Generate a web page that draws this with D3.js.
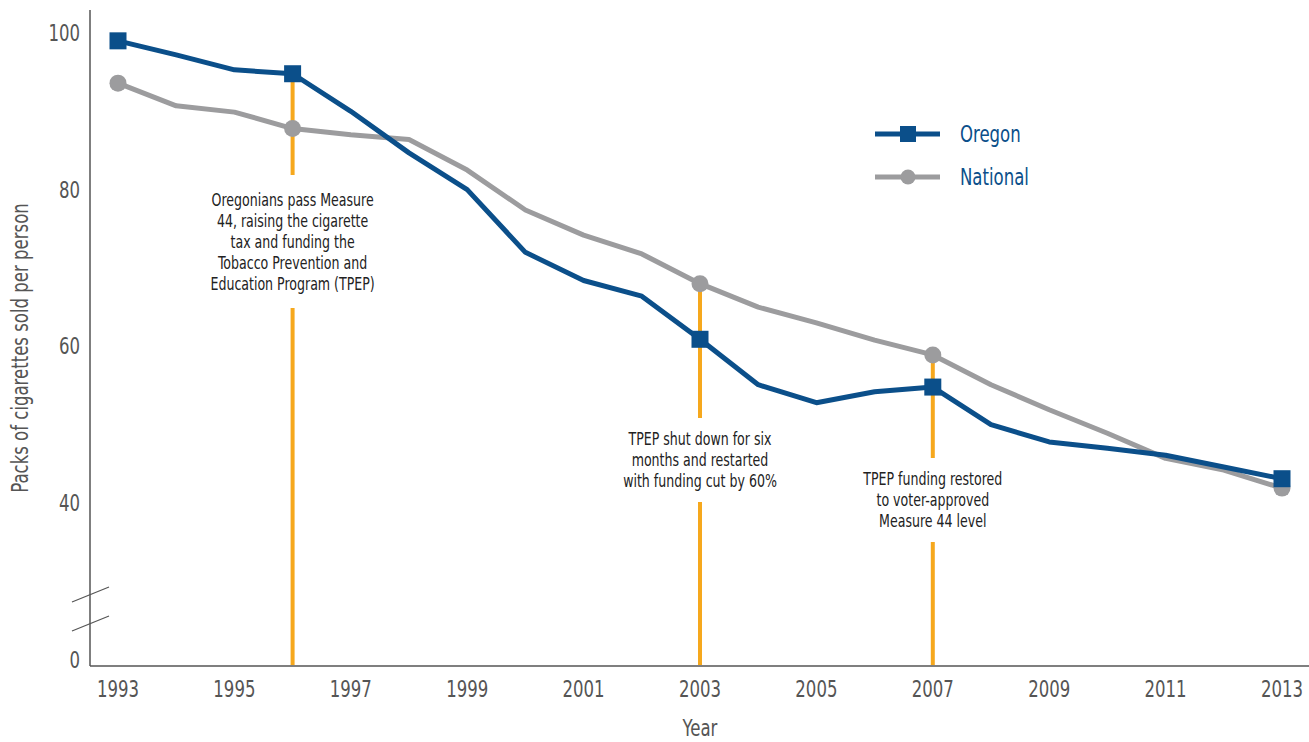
<!DOCTYPE html>
<html>
<head>
<meta charset="utf-8">
<script src="https://cdn.jsdelivr.net/npm/d3@7"></script>
<style>
  body { margin: 0; background: #fff; }
  svg text { font-family: "Liberation Sans Narrow", "DejaVu Sans Condensed", "Roboto", sans-serif; }
</style>
</head>
<body>
<svg id="chart"></svg>
<script>
// Packs of cigarettes sold per person, Oregon vs national
var years = [1993, 1994, 1995, 1996, 1997, 1998, 1999, 2000, 2001, 2002, 2003,
             2004, 2005, 2006, 2007, 2008, 2009, 2010, 2011, 2012, 2013];
var oregon = [99.0, 97.2, 95.3, 94.8, 90.0, 84.7, 80.0, 72.0, 68.4, 66.4, 60.9,
              55.1, 52.8, 54.2, 54.8, 50.0, 47.8, 47.0, 46.1, 44.6, 43.1];
var national = [93.6, 90.7, 89.9, 87.8, 87.0, 86.4, 82.5, 77.4, 74.2, 71.8, 68.0,
                65.0, 63.0, 60.8, 58.9, 55.1, 51.9, 48.9, 45.7, 44.2, 41.9];
var markerYears = [1993, 1996, 2003, 2007, 2013];
var xTicks = [1993, 1995, 1997, 1999, 2001, 2003, 2005, 2007, 2009, 2011, 2013];
var yTicks = [0, 40, 60, 80, 100];

var notes = [
  {year: 1996, lines: ["Oregonians pass Measure", "44, raising the cigarette", "tax and funding the",
                       "Tobacco Prevention and", "Education Program (TPEP)"], top: 175, textY: 200, bottom: 308},
  {year: 2003, lines: ["TPEP shut down for six", "months and restarted", "with funding cut by 60%"],
   top: 418, textY: 439, bottom: 502},
  {year: 2007, lines: ["TPEP funding restored", "to voter-approved", "Measure 44 level"],
   top: 458, textY: 479, bottom: 542}
];

var width = 1309, height = 742;
var blue = "#0b4f8a", grey = "#9c9c9e", orange = "#f6a81d", axisCol = "#555";
var squeeze = 0.8; // fake a condensed face

var svg = d3.select("#chart").attr("width", width).attr("height", height);

function label(px, py, rot) {
  return svg.append("text")
    .attr("transform", "translate(" + px + "," + py + ")" + (rot ? " rotate(" + rot + ")" : "") +
          " scale(" + squeeze + ",1)")
    .attr("dy", "0.35em");
}

var x = d3.scaleLinear().domain([1993, 2013]).range([118, 1282]);
// broken axis: 0..40 squeezed into the bottom
var y = d3.scaleLinear().domain([0, 40, 100]).range([662, 503, 33]);

// axes
svg.append("line").attr("x1", 90).attr("x2", 90).attr("y1", 10).attr("y2", 666)
   .attr("stroke", axisCol).attr("stroke-width", 1.5);
svg.append("line").attr("x1", 90).attr("x2", 1309).attr("y1", 666).attr("y2", 666)
   .attr("stroke", axisCol).attr("stroke-width", 1.5);

// break marks
[0, 29].forEach(function(d) {
  svg.append("line").attr("x1", 72).attr("y1", 602 + d).attr("x2", 109).attr("y2", 587 + d)
     .attr("stroke", axisCol).attr("stroke-width", 1.2);
});

yTicks.forEach(function(d) {
  label(80, d === 0 ? 660 : y(d)).attr("text-anchor", "end")
    .attr("fill", axisCol).attr("font-size", 23).text(d);
});

xTicks.forEach(function(d) {
  label(x(d), 689).attr("text-anchor", "middle")
    .attr("fill", axisCol).attr("font-size", 23).text(d);
});

label(700, 728).attr("text-anchor", "middle").attr("fill", axisCol)
  .attr("font-size", 23).text("Year");

label(20, 348, -90).attr("text-anchor", "middle").attr("fill", axisCol)
  .attr("font-size", 23).text("Packs of cigarettes sold per person");

// annotation lines
notes.forEach(function(n) {
  var i = years.indexOf(n.year);
  var yTop = Math.min(y(oregon[i]), y(national[i]));
  svg.append("line").attr("x1", x(n.year)).attr("x2", x(n.year))
     .attr("y1", yTop).attr("y2", n.top)
     .attr("stroke", orange).attr("stroke-width", 4);
  svg.append("line").attr("x1", x(n.year)).attr("x2", x(n.year))
     .attr("y1", n.bottom).attr("y2", 665)
     .attr("stroke", orange).attr("stroke-width", 4);
  var t = label(x(n.year), n.textY).attr("text-anchor", "middle")
     .attr("fill", "#222").attr("font-size", 17.5);
  n.lines.forEach(function(l, k) {
    t.append("tspan").attr("x", 0).attr("y", k * 21).attr("dy", "0.35em").text(l);
  });
});

var line = d3.line().x((d, i) => x(years[i])).y(d => y(d));

svg.append("path").datum(national).attr("d", line)
   .attr("fill", "none").attr("stroke", grey).attr("stroke-width", 5)
   .attr("stroke-linejoin", "round");
svg.append("path").datum(oregon).attr("d", line)
   .attr("fill", "none").attr("stroke", blue).attr("stroke-width", 5)
   .attr("stroke-linejoin", "round");

svg.selectAll(".nat-dot").data(markerYears).enter().append("circle")
   .attr("cx", d => x(d)).attr("cy", d => y(national[years.indexOf(d)]))
   .attr("r", 8.5).attr("fill", grey);
svg.selectAll(".ore-sq").data(markerYears).enter().append("rect")
   .attr("x", d => x(d) - 8.5).attr("y", d => y(oregon[years.indexOf(d)]) - 8.5)
   .attr("width", 17).attr("height", 17).attr("fill", blue);

// legend
var legend = [{name: "Oregon", color: blue, shape: "square", y: 134},
              {name: "National", color: grey, shape: "circle", y: 177}];
legend.forEach(function(l) {
  svg.append("line").attr("x1", 875).attr("x2", 940).attr("y1", l.y).attr("y2", l.y)
     .attr("stroke", l.color).attr("stroke-width", 5);
  if (l.shape === "square") {
    svg.append("rect").attr("x", 900).attr("y", l.y - 8).attr("width", 16).attr("height", 16)
       .attr("fill", l.color);
  } else {
    svg.append("circle").attr("cx", 908).attr("cy", l.y).attr("r", 7.5).attr("fill", l.color);
  }
  label(960, l.y).attr("fill", blue).attr("font-size", 23).text(l.name);
});
</script>
</body>
</html>
